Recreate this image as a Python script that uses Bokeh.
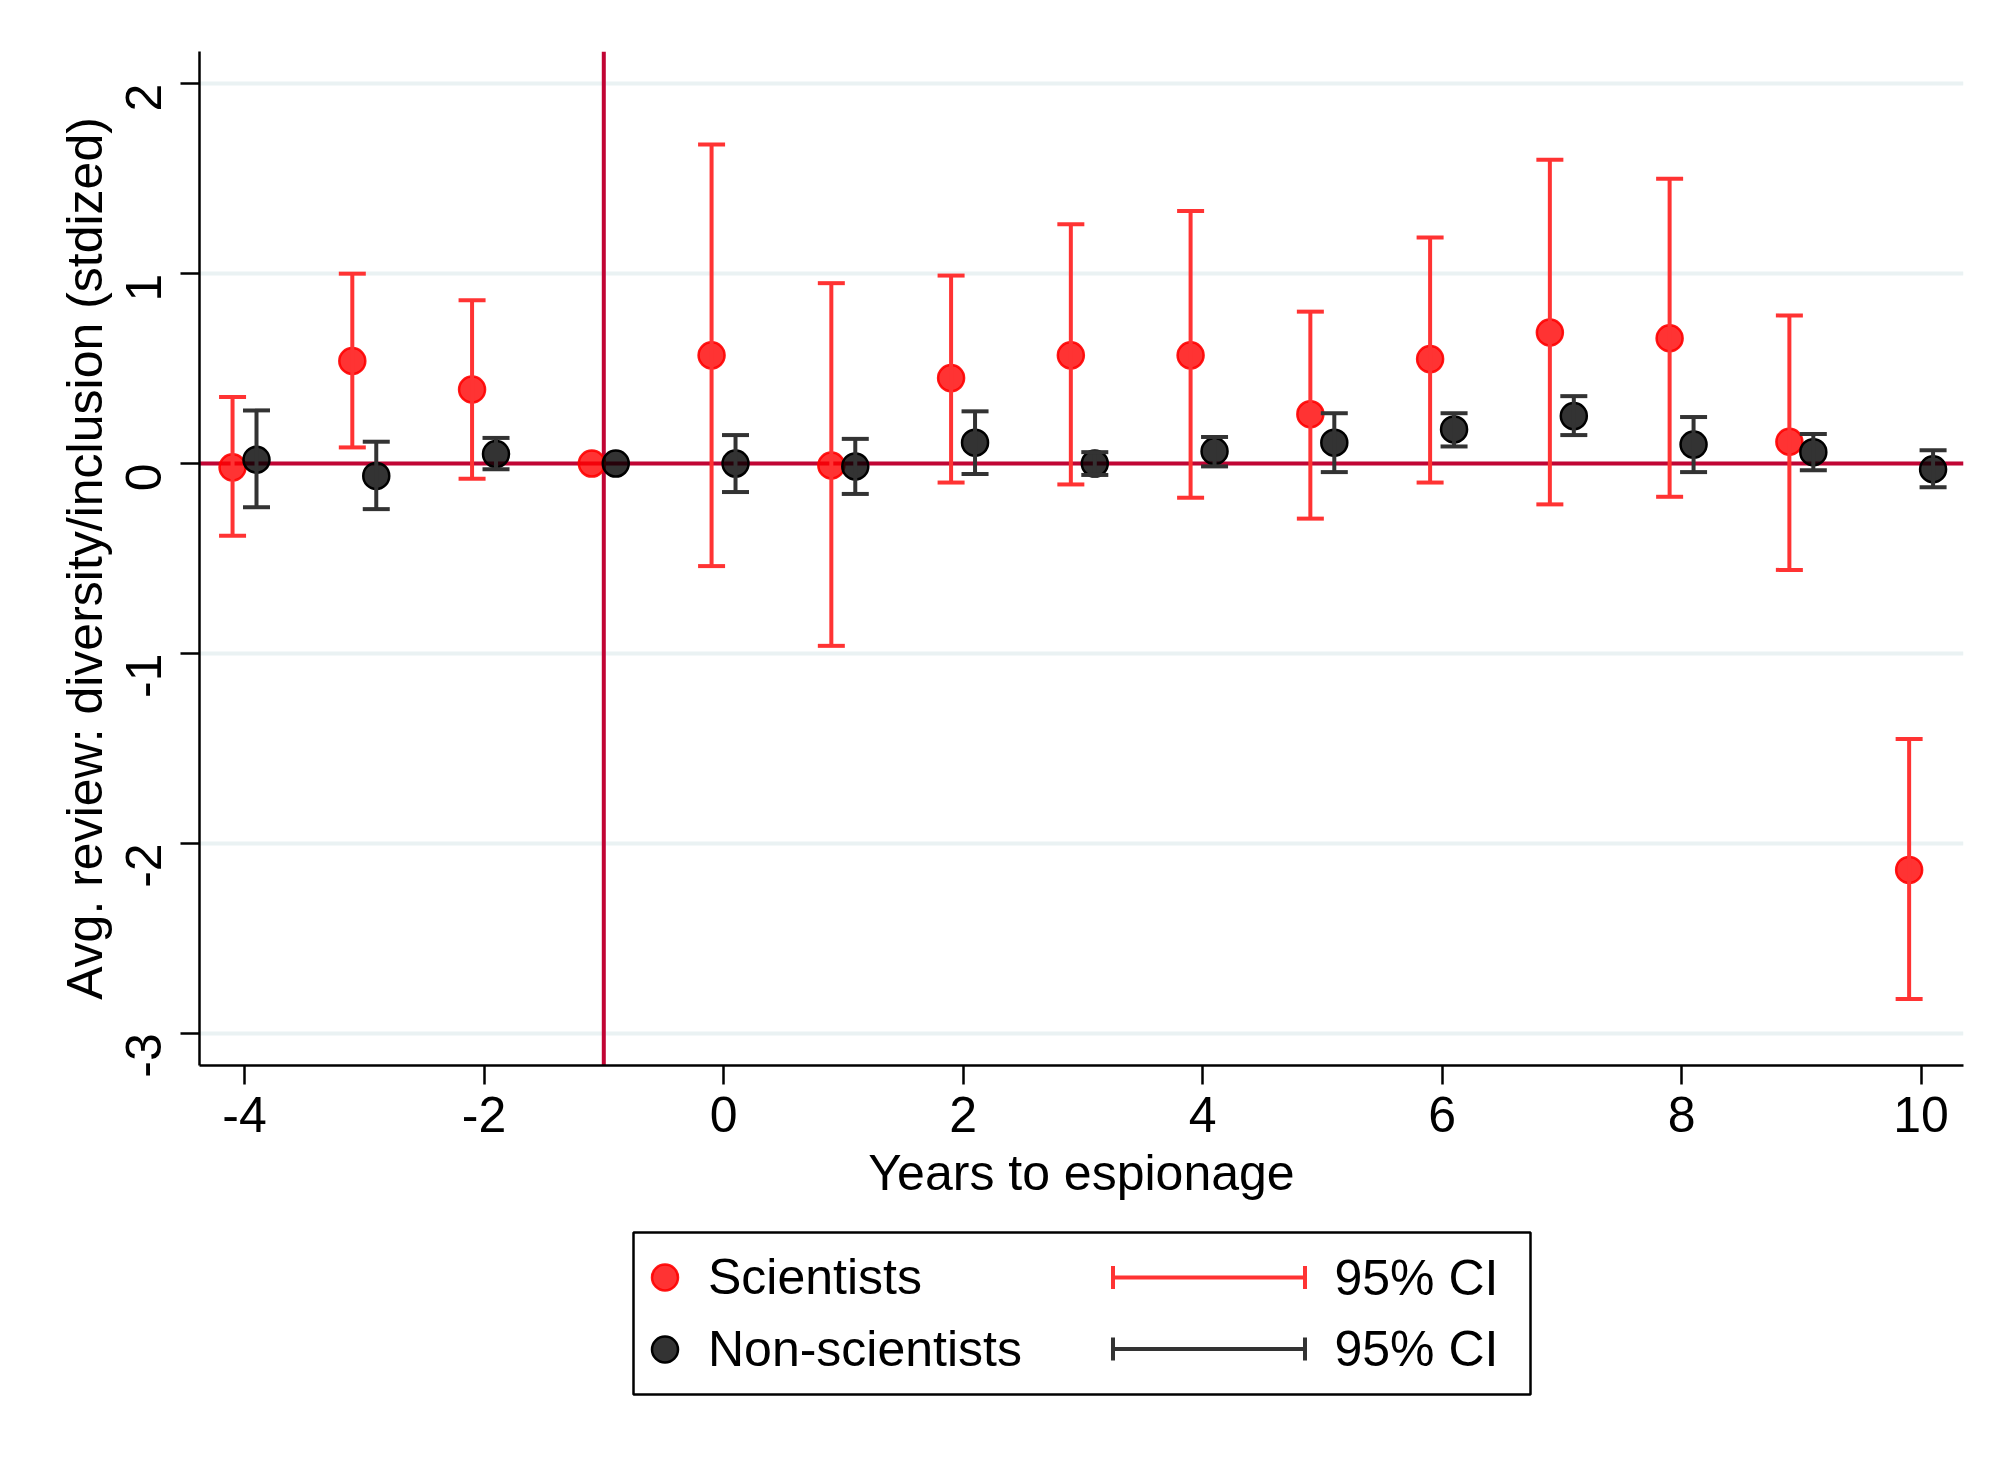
import math
from bokeh.plotting import figure
from bokeh.layouts import column
from bokeh.models import (ColumnDataSource, Whisker, TeeHead, Span, Legend, LegendItem,
                          FixedTicker, BoxAnnotation, PolyAnnotation, Label, Range1d)
from bokeh.embed import file_html
from bokeh.resources import INLINE

# ---- data ----
years = [-4, -3, -2, -1, 0, 1, 2, 3, 4, 5, 6, 7, 8, 9, 10]
sci_est = [-0.02, 0.54, 0.39, 0.0, 0.57, -0.01, 0.45, 0.57, 0.57, 0.26, 0.55, 0.69, 0.66, 0.115, -2.14]
sci_lo = [-0.38, 0.085, -0.08, float("nan"), -0.54, -0.96, -0.10, -0.11, -0.18, -0.29, -0.10, -0.215, -0.175, -0.56, -2.82]
sci_hi = [0.35, 1.0, 0.86, float("nan"), 1.68, 0.95, 0.99, 1.26, 1.33, 0.80, 1.19, 1.60, 1.50, 0.78, -1.45]
non_est = [0.02, -0.065, 0.05, 0.0, 0.0, -0.015, 0.11, 0.0, 0.065, 0.11, 0.18, 0.25, 0.10, 0.06, -0.03]
non_lo = [-0.23, -0.24, -0.03, float("nan"), -0.15, -0.16, -0.055, -0.06, -0.015, -0.045, 0.09, 0.15, -0.045, -0.035, -0.125]
non_hi = [0.28, 0.115, 0.135, float("nan"), 0.15, 0.13, 0.275, 0.06, 0.14, 0.265, 0.265, 0.355, 0.245, 0.155, 0.07]

x_ticks = [-4, -2, 0, 2, 4, 6, 8, 10]
x_tick_labels = ["-4", "-2", "0", "2", "4", "6", "8", "10"]
y_ticks = [-3, -2, -1, 0, 1, 2]
y_tick_labels = ["-3", "-2", "-1", "0", "1", "2"]

series_labels = ["Scientists", "Non-scientists"]
ci_label = "95% CI"
x_title = "Years to espionage"
y_title = "Avg. review: diversity/inclusion (stdized)"
event_year = -1
offset = 0.1

FONT = "Liberation Sans"
RED = "#ff0000"
RED_CI = "#ff3333"
DARK = "#333333"
CRIMSON = "#c10534"
GRID = "#eaf2f3"

W = 2000
H_MAIN = 1225
H_LEG = 225
FRAME_L = 199

p = figure(width=W, height=H_MAIN, output_backend="svg", toolbar_location=None,
           x_range=Range1d(-4.376, 10.354), y_range=Range1d(-3.17, 2.17),
           min_border_left=FRAME_L, min_border_right=37, min_border_top=51,
           min_border_bottom=H_MAIN - 1065)
p.outline_line_color = None
p.background_fill_color = "white"
p.border_fill_color = "white"

# grids
p.xgrid.visible = False
p.ygrid.grid_line_color = GRID
p.ygrid.grid_line_width = 4
p.ygrid.ticker = FixedTicker(ticks=y_ticks)

# axes
for ax in (p.xaxis[0], p.yaxis[0]):
    ax.axis_line_width = 2.5
    ax.axis_line_color = "black"
    ax.major_tick_line_width = 2.5
    ax.major_tick_line_color = "black"
    ax.major_tick_out = 19
    ax.major_tick_in = 0
    ax.minor_tick_line_color = None
    ax.major_label_text_font = FONT
    ax.major_label_text_font_size = "50px"
    ax.major_label_text_color = "black"
    ax.axis_label_text_font = FONT
    ax.axis_label_text_font_size = "50px"
    ax.axis_label_text_font_style = "normal"
    ax.axis_label_text_color = "black"

p.xaxis.ticker = FixedTicker(ticks=x_ticks)
p.xaxis.major_label_overrides = dict(zip(x_ticks, x_tick_labels))
p.xaxis.axis_label = x_title
p.xaxis.major_label_standoff = 12
p.xaxis.axis_label_standoff = 10

p.yaxis.ticker = FixedTicker(ticks=y_ticks)
p.yaxis.major_label_overrides = dict(zip(y_ticks, y_tick_labels))
p.yaxis.axis_label = y_title
p.yaxis.major_label_orientation = math.pi / 2
p.yaxis.major_label_standoff = 37
p.yaxis.axis_label_standoff = -7

# reference lines
p.add_layout(Span(location=0, dimension="width", line_color=CRIMSON, line_width=4, level="underlay"))
p.add_layout(Span(location=event_year, dimension="height", line_color=CRIMSON, line_width=4, level="underlay"))

# data
sx = [y - offset for y in years]
nx = [y + offset for y in years]

def ci_source(xs, lo, hi):
    keep = [i for i in range(len(xs)) if not (math.isnan(lo[i]) or math.isnan(hi[i]))]
    return ColumnDataSource(dict(x=[xs[i] for i in keep], lo=[lo[i] for i in keep], hi=[hi[i] for i in keep]))

for xs, lo, hi, col in ((sx, sci_lo, sci_hi, RED_CI), (nx, non_lo, non_hi, DARK)):
    src = ci_source(xs, lo, hi)
    w = Whisker(source=src, base="x", lower="lo", upper="hi", dimension="height",
                line_color=col, line_width=4, level="glyph",
                upper_head=TeeHead(size=27, line_color=col, line_width=4),
                lower_head=TeeHead(size=27, line_color=col, line_width=4))
    p.add_layout(w)

MARK_SCI = dict(size=26, fill_color=RED, fill_alpha=0.8, line_color=RED, line_width=2.5, line_alpha=0.9)
MARK_NON = dict(size=26, fill_color="#000000", fill_alpha=0.8, line_color="black", line_width=2.5)
p.scatter(sx, sci_est, **MARK_SCI)
p.scatter(nx, non_est, **MARK_NON)

# ---- legend strip below the chart (its frame is aligned with the chart frame) ----
lg = figure(width=W, height=H_LEG, output_backend="svg", toolbar_location=None,
            x_range=Range1d(0, 1), y_range=Range1d(0, 1),
            x_axis_type=None, y_axis_type=None, min_border=0)
lg.outline_line_color = None
lg.grid.visible = False
lg.background_fill_color = "white"
lg.border_fill_color = "white"

# legend proxies: one point each, outside the visible range of the legend strip
lr_sci = lg.scatter(x=[-10], y=[-10], **MARK_SCI)
lr_non = lg.scatter(x=[-10], y=[-10], **MARK_NON)

def sxp(v):  # page x (px) -> legend-frame screen x
    return v - FRAME_L

lg.add_layout(BoxAnnotation(left=sxp(633), right=sxp(1530), top=218, bottom=56,
                            left_units="screen", right_units="screen",
                            top_units="screen", bottom_units="screen",
                            fill_color="white", fill_alpha=1.0,
                            line_color="black", line_alpha=1.0, line_width=2.5, level="underlay"))

leg = Legend(items=[LegendItem(label=series_labels[0], renderers=[lr_sci]),
                    LegendItem(label=series_labels[1], renderers=[lr_non])],
             location=(sxp(632), 65), orientation="vertical",
             glyph_width=65, glyph_height=72, label_height=72, label_width=10,
             label_standoff=11, spacing=0, padding=0, margin=0,
             border_line_color=None, background_fill_alpha=0.0,
             label_text_font=FONT, label_text_font_size="50px", label_text_color="black")
lg.add_layout(leg, "center")

row_y = [173, 101.5]
ci_x0, ci_x1, cap = sxp(1112.5), sxp(1304.5), 11.5
for ry, col in zip(row_y, (RED_CI, DARK)):
    xs_ = [ci_x0, ci_x0, ci_x0, ci_x1, ci_x1, ci_x1, ci_x1, ci_x0]
    ys_ = [ry - cap, ry + cap, ry, ry, ry + cap, ry - cap, ry, ry]
    lg.add_layout(PolyAnnotation(xs=xs_, ys=ys_, xs_units="screen", ys_units="screen",
                                 fill_alpha=0.0, line_color=col, line_alpha=1.0,
                                 line_width=4, level="overlay"))
    lg.add_layout(Label(x=sxp(1334), y=ry, x_units="screen", y_units="screen", text=ci_label,
                        text_font=FONT, text_font_size="50px", text_color="black",
                        text_baseline="middle", text_align="left", level="overlay"))

layout = column(p, lg, spacing=0)
open("out.html", "w").write(file_html(layout, INLINE))
